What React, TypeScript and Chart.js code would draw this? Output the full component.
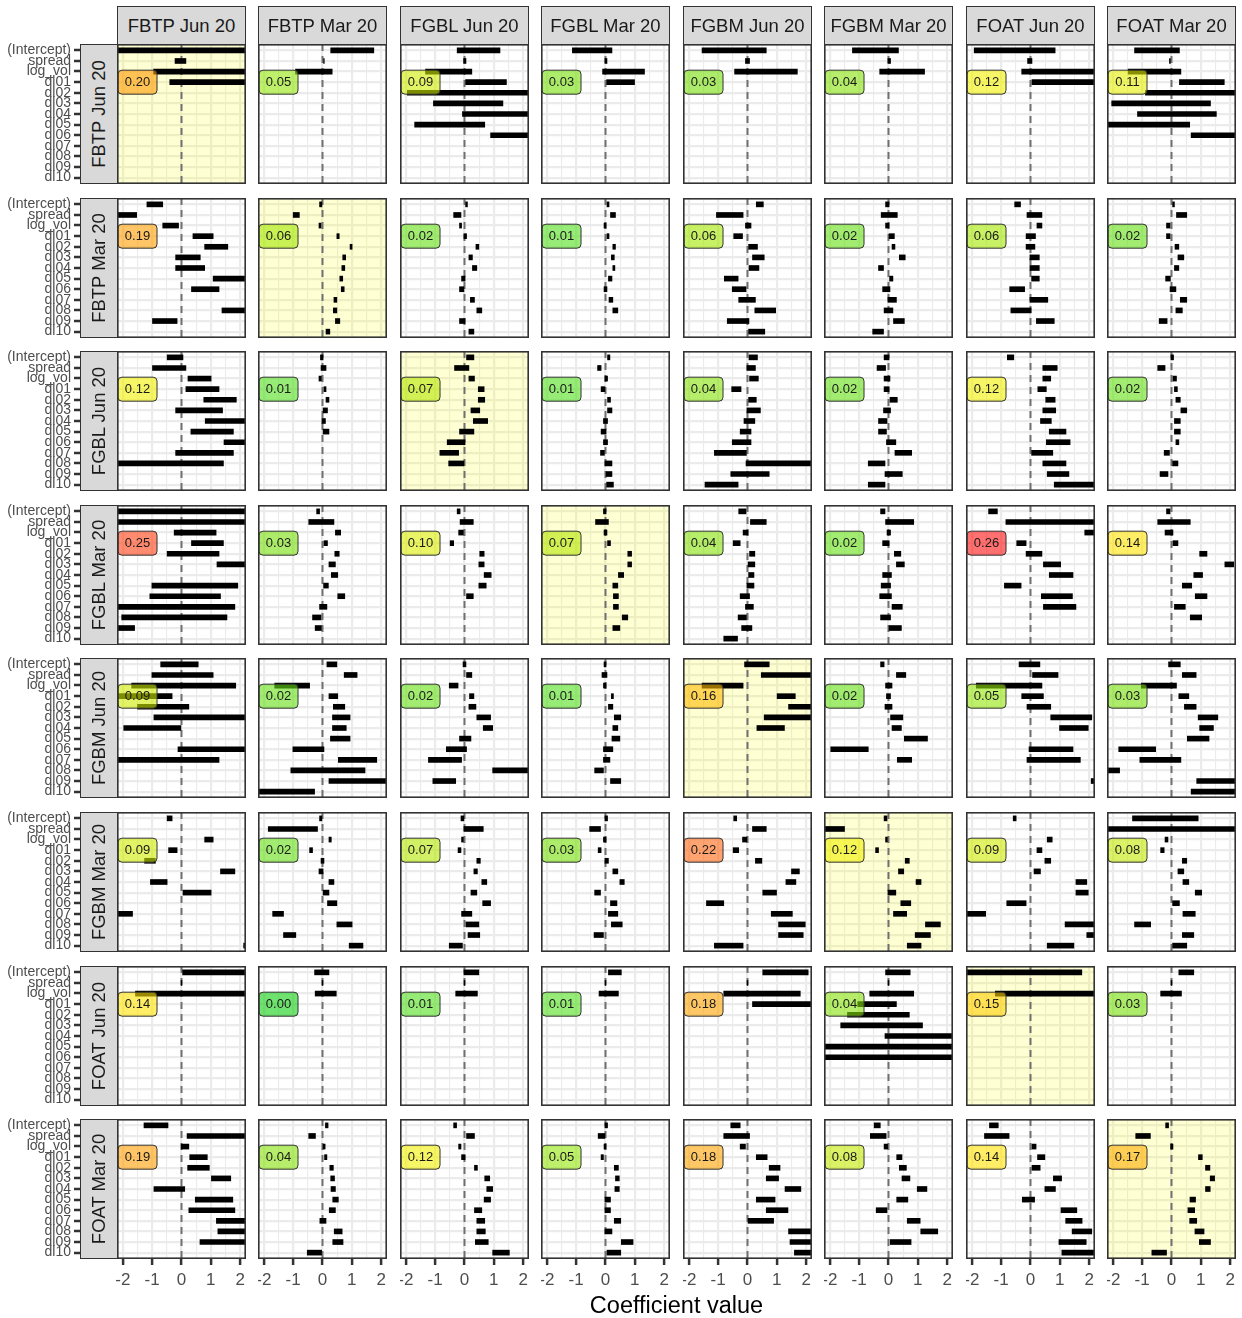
import React, { useEffect, useRef } from 'react';
import { Chart, registerables } from 'chart.js';

Chart.register(...registerables);

// ---------- data ----------
const TERMS = ['(Intercept)', 'spread', 'log_vol', 'dl01', 'dl02', 'dl03', 'dl04', 'dl05', 'dl06', 'dl07', 'dl08', 'dl09', 'dl10'];
const CONTRACTS = ['FBTP Jun 20', 'FBTP Mar 20', 'FGBL Jun 20', 'FGBL Mar 20', 'FGBM Jun 20', 'FGBM Mar 20', 'FOAT Jun 20', 'FOAT Mar 20'];
const X_TICKS = [-2, -1.5, -1, -0.5, 0, 0.5, 1, 1.5, 2];

const N = null;
type Iv = [number, number] | null;

// each response: 8 panels (one per predictor contract), each a list of [lo, hi] per term (missing = not shown)
const FBTP_Jun20: Iv[][] = [
  [[-2.5, 2.5], [-0.22, 0.15], [-0.95, 2.5], [-0.4, 2.5]],
  [[0.28, 1.75], [0.0, 0.06], [-0.92, 0.33]],
  [[-0.25, 1.21], [-0.03, 0.05], [-1.33, 0.25], [0.0, 1.43], [-1.95, 2.5], [-1.06, 1.31], [-0.07, 2.5], [-1.7, 0.69], [0.89, 2.5]],
  [[-1.13, 0.22], [-0.02, 0.05], [-0.1, 1.33], [0.0, 0.99]],
  [[-1.55, 0.64], [-0.07, 0.07], [-0.44, 1.7]],
  [[-1.23, 0.34], [-0.02, 0.07], [-0.3, 1.23]],
  [[-1.92, 0.84], [-0.1, 0.05], [-0.3, 2.5], [0.05, 2.5]],
  [[-1.26, 0.27], [-0.07, 0.0], [-1.48, 0.32], [0.27, 1.8], [-0.89, 2.5], [-2.04, 1.33], [-1.16, 1.53], [-2.5, 0.62], [0.67, 2.5]],
];
const FBTP_Mar20: Iv[][] = [
  [[-1.18, -0.64], [-2.5, -1.53], [-0.64, -0.1], [0.39, 1.08], [0.79, 1.58], [-0.2, 0.64], [-0.2, 0.79], [1.08, 2.25], [0.34, 1.28], N, [1.38, 2.25], [-0.99, -0.15]],
  [[-0.1, -0.02], [-1.0, -0.79], [-0.12, -0.05], [0.49, 0.57], [0.94, 1.01], [0.69, 0.79], [0.66, 0.76], [0.59, 0.69], [0.64, 0.74], [0.39, 0.49], [0.37, 0.49], [0.44, 0.59], [0.12, 0.25]],
  [[0.0, 0.1], [-0.37, -0.12], [-0.17, -0.1], [-0.02, 0.07], [0.39, 0.49], [0.15, 0.27], [0.27, 0.42], [-0.1, 0.02], [-0.17, -0.02], [0.2, 0.34], [0.42, 0.59], [-0.17, 0.02], [0.15, 0.32]],
  [[0.05, 0.12], [0.17, 0.34], [-0.05, 0.02], [0.05, 0.12], [0.25, 0.34], [0.2, 0.3], [0.25, 0.32], [0.1, 0.22], [-0.05, 0.05], [0.12, 0.25], [0.25, 0.42]],
  [[0.3, 0.54], [-1.06, -0.15], [-0.07, 0.12], [-0.47, -0.17], [0.0, 0.34], [0.17, 0.57], [0.05, 0.39], [-0.79, -0.32], [-0.52, -0.05], [-0.3, 0.27], [0.25, 0.96], [-0.69, 0.05], [0.0, 0.59]],
  [[-0.1, 0.02], [-0.25, 0.3], [-0.1, 0.02], [0.02, 0.2], [0.12, 0.22], [0.37, 0.57], [-0.34, -0.17], [0.0, 0.15], [-0.2, 0.05], [-0.02, 0.27], [-0.15, 0.15], [0.17, 0.54], [-0.54, -0.17]],
  [[-0.54, -0.34], [-0.12, 0.39], [0.22, 0.39], [-0.15, 0.17], [-0.15, 0.15], [-0.02, 0.3], [-0.02, 0.3], [0.0, 0.3], [-0.71, -0.2], [-0.02, 0.59], [-0.67, 0.02], [0.2, 0.81]],
  [[0.0, 0.1], [0.17, 0.52], [-0.17, -0.05], [-0.17, -0.05], [0.12, 0.25], [0.22, 0.42], [0.1, 0.25], [-0.2, 0.0], [-0.05, 0.15], [0.3, 0.52], [0.15, 0.37], [-0.42, -0.15]],
];
const FGBL_Jun20: Iv[][] = [
  [[-0.49, 0.05], [-0.99, 0.15], [0.22, 1.01], [0.15, 1.28], [0.76, 1.87], [-0.2, 1.4], [0.81, 2.5], [0.32, 1.77], [1.45, 2.5], [-0.2, 1.77], [-2.5, 1.43]],
  [[-0.07, 0.02], [-0.05, 0.12], [-0.12, 0.0], [0.05, 0.12], [0.12, 0.22], [0.02, 0.17], [-0.02, 0.1], [0.02, 0.22]],
  [[0.07, 0.32], [-0.34, 0.15], [0.15, 0.34], [0.47, 0.67], [0.47, 0.69], [0.22, 0.52], [0.3, 0.79], [-0.17, 0.32], [-0.59, 0.02], [-0.84, -0.2], [-0.54, -0.02]],
  [[0.07, 0.15], [-0.27, -0.15], [-0.02, 0.07], [-0.15, -0.02], [0.07, 0.17], [0.07, 0.22], [-0.07, 0.07], [-0.15, 0.02], [-0.07, 0.07], [-0.17, 0.0], [-0.02, 0.22], [0.02, 0.22], [0.0, 0.27]],
  [[0.05, 0.34], [-0.02, 0.27], [0.07, 0.37], [-0.54, -0.22], [0.0, 0.3], [-0.02, 0.44], [-0.12, 0.25], [-0.25, 0.12], [-0.52, 0.12], [-1.13, 0.0], [-0.05, 2.5], [-0.57, 0.74], [-1.45, -0.32]],
  [[-0.15, 0.02], [-0.39, -0.1], [-0.15, 0.05], [-0.15, 0.02], [0.05, 0.3], [-0.17, 0.07], [-0.34, -0.05], [-0.34, -0.07], [-0.07, 0.25], [0.22, 0.79], [-0.69, -0.12], [-0.12, 0.47], [-0.69, -0.12]],
  [[-0.79, -0.57], [0.42, 0.91], [0.42, 0.69], [0.25, 0.54], [0.52, 0.84], [0.42, 0.86], [0.34, 0.71], [0.64, 1.21], [0.54, 1.35], [0.0, 0.76], [0.42, 1.21], [0.57, 1.31], [0.81, 2.5]],
  [[-0.02, 0.07], [-0.47, -0.22], [0.05, 0.17], [0.1, 0.2], [0.15, 0.3], [0.32, 0.52], [0.1, 0.3], [0.1, 0.3], [0.15, 0.25], [-0.25, -0.07], [0.0, 0.22], [-0.39, -0.12]],
];
const FGBL_Mar20: Iv[][] = [
  [[-2.5, 2.5], [-2.5, 2.5], [-0.25, 1.18], [0.34, 1.43], [-0.49, 1.28], [1.21, 2.5], N, [-1.01, 1.92], [-1.08, 1.33], [-2.5, 1.82], [-2.04, 1.55], [-2.5, -1.6]],
  [[-0.2, -0.1], [-0.47, 0.39], [0.44, 0.62], [0.05, 0.17], [0.42, 0.57], [0.22, 0.44], [0.3, 0.52], [0.0, 0.2], [0.52, 0.76], [-0.1, 0.15], [-0.34, -0.05], [-0.25, 0.0]],
  [[-0.25, -0.15], [-0.15, 0.3], [-0.2, 0.0], [-0.49, -0.37], [0.52, 0.67], [0.49, 0.67], [0.67, 0.91], [0.49, 0.74], [0.07, 0.3]],
  [[-0.07, 0.02], [-0.34, 0.1], [-0.05, 0.05], [0.07, 0.17], [0.76, 0.89], [0.76, 0.89], [0.44, 0.62], [0.25, 0.42], [0.27, 0.44], [0.27, 0.44], [0.57, 0.76], [0.25, 0.49]],
  [[-0.3, -0.05], [0.1, 0.64], [-0.15, 0.02], [-0.49, -0.25], [0.07, 0.25], [0.02, 0.25], [0.0, 0.22], [-0.02, 0.22], [-0.25, 0.07], [-0.07, 0.2], [-0.32, 0.0], [-0.2, 0.15], [-0.81, -0.34]],
  [[-0.27, -0.12], [-0.1, 0.86], [-0.05, 0.07], [-0.2, 0.02], [0.2, 0.42], [0.27, 0.54], [-0.2, 0.1], [-0.25, 0.07], [-0.3, 0.1], [0.12, 0.47], [-0.27, 0.07], [0.02, 0.44]],
  [[-1.43, -1.13], [-0.84, 2.5], [1.85, 2.5], [-0.47, -0.15], [-0.15, 0.39], [0.44, 1.03], [0.64, 1.45], [-0.89, -0.32], [0.37, 1.43], [0.44, 1.55]],
  [[-0.17, -0.05], [-0.47, 0.64], [-0.22, 0.05], [0.05, 0.22], [0.96, 1.21], [1.82, 2.12], [0.76, 1.06], [0.37, 0.69], [0.81, 1.21], [0.1, 0.47], [0.64, 1.03]],
];
const FGBM_Jun20: Iv[][] = [
  [[-0.71, 0.57], [-1.01, 1.08], [-1.7, 1.85], [-2.5, -0.32], [-1.5, 0.25], [-0.94, 2.5], [-1.97, -0.02], N, [-0.12, 2.5], [-2.5, 1.28]],
  [[0.15, 0.49], [0.74, 1.18], [-1.63, -0.44], [0.22, 0.52], [0.37, 0.76], [0.34, 0.94], [0.34, 0.81], [0.27, 0.94], [-1.01, 0.05], [0.54, 1.85], [-1.08, 1.45], [0.22, 2.5], [-2.5, -0.27]],
  [[-0.05, 0.05], [0.07, 0.25], [-0.52, -0.22], [0.17, 0.32], [0.15, 0.39], [0.42, 0.89], [0.64, 0.96], [-0.17, 0.22], [-0.62, 0.07], [-1.23, -0.1], [0.96, 2.5], [-1.08, -0.3]],
  [[-0.05, 0.02], [-0.12, 0.05], [-0.07, 0.02], [0.2, 0.27], [0.1, 0.25], [0.3, 0.52], [0.25, 0.42], [0.22, 0.49], [-0.07, 0.25], [-0.07, 0.15], [-0.37, -0.07], [0.17, 0.52]],
  [[-0.1, 0.74], [0.47, 2.5], [-1.55, -0.15], [1.01, 1.63], [1.4, 2.5], [0.57, 2.5], [0.32, 1.26]],
  [[-0.27, -0.15], [0.27, 0.59], [-0.1, 0.12], [-0.07, 0.07], [-0.12, 0.12], [0.07, 0.49], [0.12, 0.44], [0.54, 1.33], [-1.97, -0.69], [0.3, 0.79]],
  [[-0.39, 0.32], [0.07, 0.94], [-1.85, 0.39], [-0.3, 0.44], [-0.12, 0.69], [0.69, 2.09], [0.99, 1.97], N, [-0.05, 1.45], [-0.12, 1.7], N, [2.07, 2.5]],
  [[-0.1, 0.3], [0.37, 0.84], [-1.03, 0.17], [0.25, 0.59], [0.44, 0.84], [0.91, 1.58], [0.96, 1.43], [0.54, 1.28], [-1.8, -0.54], [-1.08, 0.32], [-2.5, -1.77], [0.86, 2.5], [0.67, 2.5]],
];
const FGBM_Mar20: Iv[][] = [
  [[-0.49, -0.32], N, [0.79, 1.08], [-0.44, -0.15], [-1.26, -0.89], [1.33, 1.82], [-1.06, -0.49], [0.05, 1.01], N, [-2.5, -1.67], N, N, [2.12, 2.5]],
  [[-0.1, -0.02], [-1.85, -0.17], [0.22, 0.3], [-0.44, -0.34], [-0.05, 0.05], [-0.12, 0.02], [0.22, 0.39], [0.02, 0.22], [0.17, 0.49], [-1.7, -1.33], [0.49, 1.01], [-1.33, -0.91], [0.91, 1.38]],
  [[-0.12, -0.02], [-0.02, 0.64], [-0.1, 0.0], [-0.22, -0.12], [0.42, 0.54], [0.32, 0.44], [0.59, 0.76], [0.22, 0.42], [0.62, 0.89], [-0.1, 0.25], [0.05, 0.49], [0.12, 0.52], [-0.52, -0.07]],
  [[-0.02, 0.07], [-0.54, -0.17], [-0.07, 0.02], [-0.25, -0.15], [-0.02, 0.1], [0.25, 0.42], [0.49, 0.64], [-0.37, -0.17], [0.17, 0.39], [0.1, 0.42], [0.2, 0.57], [-0.39, -0.07]],
  [[-0.47, -0.37], [0.17, 0.64], [-0.17, -0.02], [-0.49, -0.3], [0.27, 0.49], [1.5, 1.77], [1.31, 1.65], [0.52, 0.99], [-1.4, -0.81], [0.81, 1.53], [1.06, 1.97], [1.06, 1.9], [-1.13, -0.15]],
  [[-0.15, -0.05], [-2.5, -1.5], [-0.1, 0.0], [-0.44, -0.34], [0.57, 0.71], [0.34, 0.52], [0.94, 1.11], [-0.02, 0.25], [0.42, 0.76], [0.17, 0.62], [1.26, 1.77], [0.91, 1.43], [0.64, 1.11]],
  [[-0.59, -0.49], N, [0.57, 0.74], [0.22, 0.39], [0.49, 0.69], [0.12, 0.34], [1.55, 1.92], [1.55, 1.97], [-0.81, -0.15], [-2.5, -1.53], [1.18, 2.5], [1.92, 2.5], [0.57, 1.48]],
  [[-1.33, 0.91], [-2.5, 2.5], [-0.22, -0.12], [-0.37, -0.25], [0.37, 0.52], [0.22, 0.42], [0.39, 0.59], [0.81, 1.03], [0.0, 0.27], [0.39, 0.81], [-1.26, -0.71], [0.37, 0.76], [0.0, 0.52]],
];
const FOAT_Jun20: Iv[][] = [
  [[0.0, 2.5], [-0.015, 0.015], [-1.57, 2.5]],
  [[-0.27, 0.22], [-0.015, 0.015], [-0.25, 0.47]],
  [[-0.02, 0.49], [-0.015, 0.015], [-0.3, 0.44]],
  [[0.1, 0.54], [-0.015, 0.015], [-0.22, 0.44]],
  [[0.52, 2.07], [-0.015, 0.015], [-0.81, 1.8], [0.17, 2.5]],
  [[-0.1, 0.74], [-0.015, 0.015], [-0.64, 0.86], [-1.05, 0.27], [-1.4, 0.71], [-1.63, 1.16], [-0.12, 2.5], [-2.5, 2.5], [-2.5, 2.5]],
  [[-2.5, 1.75], N, [-1.2, 2.5]],
  [[0.25, 0.76], [-0.015, 0.015], [-0.37, 0.34]],
];
const FOAT_Mar20: Iv[][] = [
  [[-1.28, -0.46], [0.19, 2.5], [-0.01, 0.25], [0.28, 0.88], [0.21, 0.95], [1.02, 1.68], [-0.94, 0.11], [0.47, 1.75], [0.25, 1.82], [1.19, 2.5], [1.24, 2.5], [0.63, 2.5]],
  [[0.1, 0.19], [-0.47, -0.24], [0.02, 0.09], [0.07, 0.15], [0.25, 0.37], [0.28, 0.41], [0.29, 0.44], [0.35, 0.54], [0.23, 0.44], [-0.09, 0.12], [0.4, 0.67], [0.35, 0.7], [-0.52, -0.03]],
  [[-0.37, -0.27], [0.07, 0.34], [-0.2, -0.12], [-0.1, 0.02], [0.34, 0.44], [0.69, 0.86], [0.76, 0.96], [0.67, 0.89], [0.34, 0.59], [0.42, 0.69], [0.42, 0.71], [0.37, 0.81], [0.96, 1.53]],
  [[-0.02, 0.07], [-0.25, -0.02], [-0.05, 0.02], [-0.15, -0.07], [0.3, 0.44], [0.34, 0.47], [0.32, 0.47], [-0.02, 0.17], [-0.02, 0.17], [0.3, 0.52], [-0.02, 0.22], [0.54, 0.94], [0.05, 0.52]],
  [[-0.57, -0.25], [-0.81, 0.07], [-0.25, -0.07], [0.3, 0.67], [0.74, 1.11], [0.64, 1.06], [1.28, 1.82], [0.3, 0.94], [0.64, 1.38], [0.02, 0.89], [1.4, 2.5], [1.45, 2.5], [1.6, 2.5]],
  [[-0.49, -0.28], [-0.62, -0.08], [-0.15, -0.03], [0.28, 0.46], [0.37, 0.61], [0.46, 0.73], [0.98, 1.31], [0.28, 0.66], [-0.42, -0.05], [0.64, 1.08], [1.1, 1.68], [0.06, 0.77]],
  [[-1.4, -1.1], [-1.57, -0.73], [0.05, 0.19], [0.24, 0.49], [0.05, 0.33], [0.78, 1.06], [0.49, 0.85], [-0.28, 0.14], [1.04, 1.58], [1.2, 1.76], [1.42, 2.09], [0.97, 1.9], [1.07, 2.3]],
  [[-0.2, -0.1], [-1.22, -0.72], [-0.03, 0.05], [0.92, 1.05], [1.16, 1.31], [1.32, 1.47], [1.16, 1.32], [0.63, 0.82], [0.56, 0.79], [0.62, 0.86], [0.8, 1.11], [0.95, 1.33], [-0.67, -0.17]],
];

const R2_FBTP_Jun20 = [0.20, 0.05, 0.09, 0.03, 0.03, 0.04, 0.12, 0.11];
const R2_FBTP_Mar20 = [0.19, 0.06, 0.02, 0.01, 0.06, 0.02, 0.06, 0.02];
const R2_FGBL_Jun20 = [0.12, 0.01, 0.07, 0.01, 0.04, 0.02, 0.12, 0.02];
const R2_FGBL_Mar20 = [0.25, 0.03, 0.10, 0.07, 0.04, 0.02, 0.26, 0.14];
const R2_FGBM_Jun20 = [0.09, 0.02, 0.02, 0.01, 0.16, 0.02, 0.05, 0.03];
const R2_FGBM_Mar20 = [0.09, 0.02, 0.07, 0.03, 0.22, 0.12, 0.09, 0.08];
const R2_FOAT_Jun20 = [0.14, 0.00, 0.01, 0.01, 0.18, 0.04, 0.15, 0.03];
const R2_FOAT_Mar20 = [0.19, 0.04, 0.12, 0.05, 0.18, 0.08, 0.14, 0.17];

const RESPONSES = [FBTP_Jun20, FBTP_Mar20, FGBL_Jun20, FGBL_Mar20, FGBM_Jun20, FGBM_Mar20, FOAT_Jun20, FOAT_Mar20];
const R2 = [R2_FBTP_Jun20, R2_FBTP_Mar20, R2_FGBL_Jun20, R2_FGBL_Mar20, R2_FGBM_Jun20, R2_FGBM_Mar20, R2_FOAT_Jun20, R2_FOAT_Mar20];

// ---------- layout / style ----------
const PL = [117, 258, 400, 541, 683, 824, 966, 1107];
const PT = [44, 198, 351, 505, 658, 812, 966, 1119];
const PW = 129;
const PH = 140;
const FONT = '"Liberation Sans", Arial, Helvetica, sans-serif';

const LABEL_ALPHA = 0.6;
const LABEL_STOPS: [number, number[]][] = [
  [0.0, [112, 226, 112]],
  [0.01, [150, 236, 119]],
  [0.03, [173, 236, 107]],
  [0.05, [190, 240, 107]],
  [0.07, [211, 241, 96]],
  [0.09, [227, 243, 95]],
  [0.12, [246, 246, 98]],
  [0.14, [255, 238, 102]],
  [0.16, [255, 214, 96]],
  [0.18, [255, 200, 102]],
  [0.2, [255, 194, 102]],
  [0.22, [255, 164, 112]],
  [0.25, [255, 140, 112]],
  [0.26, [255, 112, 112]],
];

function labelFill(v: number): string {
  let i = 0;
  while (i < LABEL_STOPS.length - 2 && v > LABEL_STOPS[i + 1][0]) i++;
  const [v0, c0] = LABEL_STOPS[i];
  const [v1, c1] = LABEL_STOPS[i + 1];
  const t = Math.max(0, Math.min(1, (v - v0) / (v1 - v0)));
  const rgb = c0.map((a, k) => a + (c1[k] - a) * t);
  const base = rgb.map((o) => Math.max(0, Math.min(255, Math.round((o - 255 * (1 - LABEL_ALPHA)) / LABEL_ALPHA))));
  return `rgba(${base.join(',')},${LABEL_ALPHA})`;
}

function roundRect(ctx: CanvasRenderingContext2D, x: number, y: number, w: number, h: number, r: number) {
  ctx.beginPath();
  ctx.moveTo(x + r, y);
  ctx.lineTo(x + w - r, y);
  ctx.arcTo(x + w, y, x + w, y + r, r);
  ctx.lineTo(x + w, y + h - r);
  ctx.arcTo(x + w, y + h, x + w - r, y + h, r);
  ctx.lineTo(x + r, y + h);
  ctx.arcTo(x, y + h, x, y + h - r, r);
  ctx.lineTo(x, y + r);
  ctx.arcTo(x, y, x + r, y, r);
  ctx.closePath();
}

function makePanelPlugin(diag: boolean, r2: number) {
  return {
    id: 'panelDecor',
    beforeDraw(chart: any) {
      const { ctx, chartArea: a } = chart;
      ctx.save();
      ctx.fillStyle = '#ffffff';
      ctx.fillRect(a.left, a.top, a.right - a.left, a.bottom - a.top);
      ctx.restore();
    },
    beforeDatasetsDraw(chart: any) {
      const { ctx, chartArea: a } = chart;
      ctx.save();
      if (diag) {
        ctx.fillStyle = 'rgba(255,255,0,0.17)';
        ctx.fillRect(a.left, a.top, a.right - a.left, a.bottom - a.top);
      }
      const x0 = chart.scales.x.getPixelForValue(0);
      ctx.beginPath();
      ctx.setLineDash([7, 5]);
      ctx.lineWidth = 2;
      ctx.strokeStyle = '#707070';
      ctx.moveTo(x0, a.top);
      ctx.lineTo(x0, a.bottom);
      ctx.stroke();
      ctx.restore();
    },
    afterDatasetsDraw(chart: any) {
      const { ctx } = chart;
      const cx = chart.scales.x.getPixelForValue(-1.5);
      const cy = chart.scales.y.getPixelForValue(3);
      const w = 39;
      const h = 24;
      ctx.save();
      roundRect(ctx, cx - w / 2, cy - h / 2, w, h, 4);
      ctx.fillStyle = labelFill(r2);
      ctx.fill();
      ctx.lineWidth = 1;
      ctx.strokeStyle = '#333333';
      ctx.stroke();
      ctx.fillStyle = '#1a1a1a';
      ctx.font = `13px ${FONT}`;
      ctx.textAlign = 'center';
      ctx.textBaseline = 'middle';
      ctx.fillText(r2.toFixed(2), cx, cy + 0.5);
      ctx.restore();
    },
    afterDraw(chart: any) {
      const { ctx, chartArea: a } = chart;
      ctx.save();
      ctx.lineWidth = 1.6;
      ctx.strokeStyle = '#333333';
      ctx.strokeRect(a.left + 0.8, a.top + 0.8, a.right - a.left - 1.6, a.bottom - a.top - 1.6);
      ctx.restore();
    },
  };
}

function Panel({ r, c }: { r: number; c: number }) {
  const ref = useRef<HTMLCanvasElement>(null);
  const isLeft = c === 0;
  const isBottom = r === RESPONSES.length - 1;
  const leftExtra = isLeft ? PL[0] : 0;
  const topExtra = isLeft ? 8 : 0;
  const bottomExtra = isBottom ? 44 : 0;
  const cl = PL[c] - leftExtra;
  const ct = PT[r] - topExtra;
  const cw = PW + leftExtra;
  const ch = PH + topExtra + bottomExtra;

  useEffect(() => {
    if (!ref.current) return;
    const intervals = RESPONSES[r][c];
    const pts: any[] = [];
    intervals.forEach((iv, i) => {
      if (iv) pts.push({ x: [iv[0], iv[1]], y: i });
    });
    const isInt = (v: number) => Math.abs(v - Math.round(v)) < 1e-9;
    const chart = new Chart(ref.current, {
      type: 'bar',
      data: {
        datasets: [
          {
            data: pts,
            backgroundColor: '#000000',
            borderWidth: 0,
            barThickness: 5,
            clip: 0,
          } as any,
        ],
      },
      options: {
        animation: false,
        responsive: false,
        devicePixelRatio: 1,
        indexAxis: 'y',
        events: [],
        layout: { padding: { top: topExtra, left: 0, right: 0, bottom: 0 } },
        plugins: { legend: { display: false }, tooltip: { enabled: false } },
        scales: {
          x: {
            type: 'linear',
            min: -2.2,
            max: 2.2,
            offset: false,
            border: { display: false },
            afterBuildTicks: (s: any) => {
              s.ticks = X_TICKS.map((v) => ({ value: v }));
            },
            afterFit: (s: any) => {
              s.height = bottomExtra;
              s.paddingLeft = 0;
              s.paddingRight = 0;
            },
            grid: {
              color: '#EBEBEB',
              lineWidth: (ctx: any) => (ctx.tick && isInt(ctx.tick.value) ? 2.2 : 1.1),
              drawTicks: isBottom,
              tickLength: 6,
              tickWidth: 2.5,
              tickColor: (ctx: any) => (ctx.tick && isInt(ctx.tick.value) ? '#333333' : 'rgba(0,0,0,0)'),
            },
            ticks: {
              display: isBottom,
              autoSkip: false,
              maxRotation: 0,
              padding: 5,
              color: '#4D4D4D',
              font: { family: FONT, size: 17 },
              callback: (v: any) => (isInt(Number(v)) ? String(Math.round(Number(v))) : ''),
            },
          },
          y: {
            type: 'linear',
            min: -0.6,
            max: 12.6,
            reverse: true,
            offset: false,
            border: { display: false },
            afterBuildTicks: (s: any) => {
              s.ticks = TERMS.map((_, i) => ({ value: i }));
            },
            afterFit: (s: any) => {
              s.width = leftExtra;
              s.paddingTop = 0;
              s.paddingBottom = 0;
            },
            grid: {
              offset: false,
              color: '#EBEBEB',
              lineWidth: 2.2,
              drawTicks: isLeft,
              tickLength: 43,
              tickWidth: 2.5,
              tickColor: '#333333',
            },
            ticks: {
              display: isLeft,
              autoSkip: false,
              padding: 3,
              color: '#4D4D4D',
              font: { family: FONT, size: 14 },
              callback: (v: any) => TERMS[Math.round(Number(v))] ?? '',
            },
          },
        },
      } as any,
      plugins: [makePanelPlugin(r === c, R2[r][c]) as any],
    });
    return () => chart.destroy();
  }, [r, c]);

  return (
    <canvas
      ref={ref}
      width={cw}
      height={ch}
      style={{ position: 'absolute', left: cl, top: ct, width: cw, height: ch, display: 'block' }}
    />
  );
}

const stripBase: React.CSSProperties = {
  position: 'absolute',
  boxSizing: 'border-box',
  border: '1.6px solid #333333',
  background: '#D9D9D9',
  display: 'flex',
  alignItems: 'center',
  justifyContent: 'center',
  color: '#1A1A1A',
  fontFamily: FONT,
  fontSize: 18.5,
  whiteSpace: 'nowrap',
  overflow: 'hidden',
};

export default function App() {
  const panels: React.ReactNode[] = [];
  for (let r = 0; r < RESPONSES.length; r++) {
    for (let c = 0; c < CONTRACTS.length; c++) {
      panels.push(<Panel key={`p${r}-${c}`} r={r} c={c} />);
    }
  }
  return (
    <div
      style={{
        position: 'absolute',
        left: 0,
        top: 0,
        width: 1242,
        height: 1318,
        background: '#ffffff',
        overflow: 'hidden',
        fontFamily: FONT,
      }}
    >
      {panels}
      {CONTRACTS.map((name, c) => (
        <div key={`ts${c}`} style={{ ...stripBase, left: PL[c], top: 6, width: PW, height: 39 }}>
          {name}
        </div>
      ))}
      {CONTRACTS.map((name, r) => (
        <div key={`ls${r}`} style={{ ...stripBase, left: 80, top: PT[r], width: 38, height: PH }}>
          <span style={{ display: 'inline-block', transform: 'rotate(-90deg)' }}>{name}</span>
        </div>
      ))}
      <div
        style={{
          position: 'absolute',
          left: 476.5,
          width: 400,
          top: 1291,
          height: 28,
          lineHeight: '28px',
          textAlign: 'center',
          fontSize: 23.5,
          color: '#000000',
          fontFamily: FONT,
        }}
      >
        Coefficient value
      </div>
    </div>
  );
}
